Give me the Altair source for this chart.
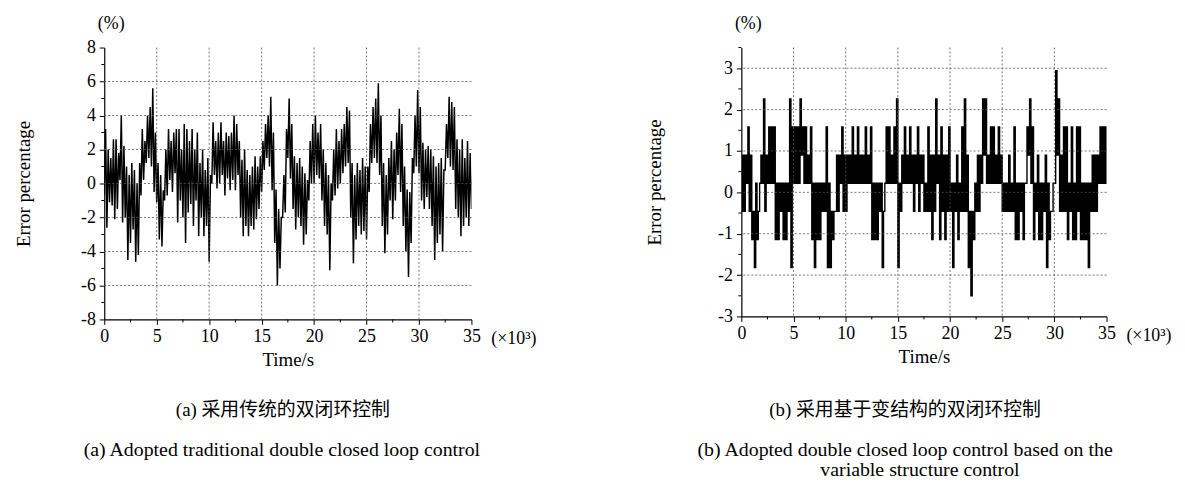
import altair as alt
import pandas as pd

# ---------------- data ----------------
STEP = 0.25  # sampling step of the digitised envelope, in 10^3 s

# (a) traditional double closed loop: per-step low / high of the trace (%)
A_HI = [3.2, 2.0, 1.5, 2.6, 2.6, 1.8, 4.0, 2.2, 1.0, 0.5, 1.2, 0.8,
        0.0, 1.2, 3.2, 2.5, 4.0, 4.5, 5.6, 3.0, 1.2, 0.5, -0.4, 2.0,
        3.2, 2.5, 3.0, 3.2, 3.2, 2.0, 3.5, 3.2, 2.5, 3.2, 2.0, 3.0,
        1.2, 2.0, 0.8, 1.5, 0.5, 3.6, 2.5, 3.0, 3.6, 2.5, 3.0, 2.8,
        3.0, 4.0, 3.5, 2.5, 1.4, 2.0, 0.8, 0.5, 1.0, 1.6, 1.0, 1.6,
        2.5, 3.5, 4.0, 5.1, 3.0, -0.35, -1.5, -2.0, 0.5, 3.2, 5.0, 3.5,
        1.6, 1.2, 1.5, 1.0, 0.6, 0.2, 2.5, 3.5, 4.0, 3.0, 3.5, 2.0,
        1.2, 0.5, 0.0, 2.0, 3.2, 2.5, 3.2, 3.5, 4.5, 4.3, 1.2, 0.5,
        1.2, 0.8, 1.5, 1.0, 1.0, 3.5, 4.5, 5.0, 5.9, 4.0, 1.2, 0.5,
        1.5, 2.5, 2.0, 3.0, 4.4, 3.5, 1.0, -0.35, -0.5, 1.5, 4.0, 5.5,
        4.5, 2.4, 2.0, 2.2, 2.0, 1.6, 1.0, 1.2, 1.5, 0.8, 3.5, 5.1,
        4.8, 4.5, 2.6, 2.0, 2.6, 1.5, 2.5, 1.8, 1.0]
A_LO = [-0.7, -2.6, -1.1, -1.3, -2.1, -1.5, 0.2, -2.3, -2.0, -4.5, -3.5, -2.7,
        -4.6, -4.2, -0.7, 0.2, 1.2, 1.5, 1.0, -0.5, -1.1, -3.3, -3.7, -1.0,
        -0.7, 0.2, -0.5, 0.6, -2.3, -1.0, -2.0, -3.5, -1.7, -1.2, -2.5, -1.0,
        -3.1, -2.0, -3.1, -2.5, -4.6, 0.0, 0.5, -0.3, 0.0, 0.5, -0.7, 0.3,
        -0.4, 0.2, -0.4, 0.5, -2.0, -3.1, -2.5, -3.1, -2.5, -2.7, -2.1, -1.5,
        -0.5, 0.8, 1.5, 1.0, -0.4, -3.5, -6.0, -5.0, -2.0, -1.7, 1.5, 0.3,
        -1.5, -2.7, -2.0, -2.5, -3.6, -3.0, -1.0, 0.0, 0.0, 0.5, 0.3, -1.0,
        -2.5, -3.0, -5.1, -1.0, -0.7, -0.3, 0.0, 0.6, 1.0, 1.2, -2.0, -4.7,
        -3.3, -2.5, -3.0, -2.8, -3.3, -0.5, 1.2, 1.5, 1.2, 0.5, -2.5, -4.1,
        -3.0, -1.0, -2.1, -1.0, 0.5, -0.5, -2.5, -4.0, -5.5, -3.5, 0.6, 1.0,
        0.6, -1.0, -1.5, -0.8, -1.5, -2.5, -4.5, -3.5, -3.0, -4.0, 0.8, 1.5,
        1.0, 0.8, -1.5, -2.0, -3.1, -2.5, -2.0, -2.5, -1.5]

# (b) variable-structure control: quantised levels of the trace (%)
A_, B_, C_, D_, E_, F_, G_, H_, I_ = -2.5, -1.82, -1.14, -0.46, 0.22, 0.9, 1.58, 2.26, 2.94
B_HI = [F_, F_, G_, F_, D_, E_, D_, F_, H_, F_, G_, G_, G_, E_, E_, E_,
        E_, E_, H_, G_, G_, G_, H_, G_, G_, F_, G_, E_, E_, E_, E_, E_,
        G_, E_, D_, D_, F_, F_, G_, F_, F_, F_, G_, F_, G_, F_, F_, G_,
        F_, G_, E_, E_, E_, E_, D_, G_, G_, F_, G_, H_, E_, F_, G_, F_,
        G_, F_, F_, G_, F_, F_, E_, G_, F_, F_, H_, F_, G_, F_, F_, G_,
        E_, E_, F_, E_, G_, H_, F_, D_, D_, E_, F_, F_, H_, H_, F_, G_,
        G_, F_, G_, F_, E_, E_, F_, E_, G_, E_, E_, E_, E_, G_, H_, G_,
        E_, F_, E_, E_, F_, E_, D_, E_, I_, H_, F_, G_, G_, E_, G_, E_,
        G_, G_, E_, E_, E_, E_, F_, F_, F_, G_, G_, G_, H_]
B_LO = [D_, D_, E_, D_, C_, B_, C_, E_, E_, D_, E_, E_, E_, C_, C_, D_,
        C_, C_, D_, B_, E_, E_, E_, F_, E_, E_, E_, C_, B_, C_, C_, D_,
        D_, B_, B_, C_, D_, D_, E_, D_, D_, E_, E_, E_, E_, E_, E_, E_,
        E_, E_, C_, C_, C_, D_, B_, E_, E_, E_, E_, E_, B_, D_, E_, E_,
        E_, E_, D_, E_, D_, E_, D_, D_, D_, C_, D_, E_, C_, D_, C_, D_,
        D_, B_, D_, C_, D_, D_, D_, B_, A_, C_, D_, D_, E_, F_, E_, E_,
        E_, E_, E_, E_, D_, D_, D_, D_, D_, C_, C_, D_, C_, E_, F_, E_,
        C_, D_, C_, C_, D_, B_, C_, D_, E_, F_, D_, D_, D_, C_, D_, C_,
        C_, D_, C_, C_, C_, B_, D_, D_, D_, E_, E_, E_, E_]

X_MAJOR = [0, 5, 10, 15, 20, 25, 30, 35]
X_MINOR = [2.5, 7.5, 12.5, 17.5, 22.5, 27.5, 32.5]
X_GRID = [5, 10, 15, 20, 25, 30]

YA_MAJOR = [-8, -6, -4, -2, 0, 2, 4, 6, 8]
YA_MINOR = [-7, -5, -3, -1, 1, 3, 5, 7]
YA_GRID = [-6, -4, -2, 0, 2, 4, 6]

YB_MAJOR = [-3, -2, -1, 0, 1, 2, 3]
YB_MINOR = [-2.5, -1.5, -0.5, 0.5, 1.5, 2.5, 3.5]
YB_GRID = [-2, -1, 0, 1, 2, 3]

CAP_A = ["(a)  采用传统的双闭环控制", "(a) Adopted traditional double closed loop control"]
CAP_B = ["(b)  采用基于变结构的双闭环控制", "(b) Adopted double closed loop control based on the",
         "variable structure control"]

SERIF = "Liberation Serif"
MIXED = "Liberation Serif, Noto Sans CJK SC"


def zigzag(lo, hi):
    rows = []
    for i, (l, h) in enumerate(zip(lo, hi)):
        t = i * STEP
        rows.append({"t": t, "v": l, "k": 2 * i})
        rows.append({"t": t + STEP / 2, "v": h, "k": 2 * i + 1})
    return pd.DataFrame(rows)


def text_layer(s, x, y, font=SERIF, size=18, align="center"):
    return alt.Chart(pd.DataFrame({"s": [s]})).mark_text(
        font=font, fontSize=size, align=align, baseline="middle", color="black"
    ).encode(x=alt.value(x), y=alt.value(y), text="s:N")


def panel(lo, hi, ydom, ymajor, yminor, ygrid, W, H, interp, sw, caps, caps_x, title_pad_y):
    xs = alt.Scale(domain=[0, 35], nice=False, zero=False)
    ys = alt.Scale(domain=ydom, nice=False, zero=False)
    xa = alt.Axis(values=X_MAJOR, title="Time/s", grid=False, tickSize=5, labelPadding=3,
                  titlePadding=5, labelFlush=False)
    ya = alt.Axis(values=ymajor, title="Error percentage", grid=False, tickSize=5,
                  labelPadding=4, titlePadding=title_pad_y, labelExpr="'' + datum.value")
    X = lambda: alt.X("t:Q", scale=xs, axis=xa)
    Y = lambda: alt.Y("v:Q", scale=ys, axis=ya)
    df = zigzag(lo, hi)

    grid_y = alt.Chart(pd.DataFrame({"v": ygrid})).mark_rule(
        color="#555", strokeWidth=0.8, strokeDash=[2, 2]
    ).encode(y=Y())
    grid_x = alt.Chart(pd.DataFrame({"t": X_GRID})).mark_rule(
        color="#555", strokeWidth=0.8, strokeDash=[2, 2]
    ).encode(x=X())

    line = alt.Chart(df).mark_line(
        color="black", strokeWidth=sw, interpolate=interp, clip=True
    ).encode(x=X(), y=Y(), order="k:Q")

    minor_y = alt.Chart(pd.DataFrame({"v": yminor})).mark_rule(
        color="black", strokeWidth=1
    ).encode(y=Y(), x=alt.value(0), x2=alt.value(-3))
    minor_x = alt.Chart(pd.DataFrame({"t": X_MINOR})).mark_rule(
        color="black", strokeWidth=1
    ).encode(x=X(), y=alt.value(H), y2=alt.value(H + 3))

    layers = [line, grid_y, grid_x, minor_y, minor_x,
              text_layer("(%)", 7, -24, size=18),
              text_layer("(×10³)", W + 20, H + 20, size=18, align="left")]
    ys_abs = [365, 406, 426]
    for i, c in enumerate(caps):
        layers.append(text_layer(c, caps_x[i], ys_abs[i], font=MIXED,
                                 size=19 if i == 0 else 20))
    return alt.layer(*layers).properties(width=W, height=H)


left = panel(A_LO, A_HI, [-8, 8], YA_MAJOR, YA_MINOR, YA_GRID, 370, 274, "linear", 1.5,
             CAP_A, [180, 179], 47)
right = panel(B_LO, B_HI, [-3, 3.5], YB_MAJOR, YB_MINOR, YB_GRID, 368, 271, "step-after", 1.4,
              CAP_B, [165, 165, 180], 53)

chart = alt.hconcat(left, right, spacing=272, bounds="flush").configure(
    font=SERIF, padding={"left": 7, "top": 5, "right": 5, "bottom": 5}
).configure_view(stroke=None).configure_axis(
    labelFont=SERIF, titleFont=SERIF, labelFontSize=18, titleFontSize=19,
    labelColor="black", titleColor="black", titleFontWeight="normal",
    domainColor="black", tickColor="black", domainWidth=1.2, tickWidth=1,
)

chart.save("out.html", embed_options={"renderer": "svg", "actions": False})
